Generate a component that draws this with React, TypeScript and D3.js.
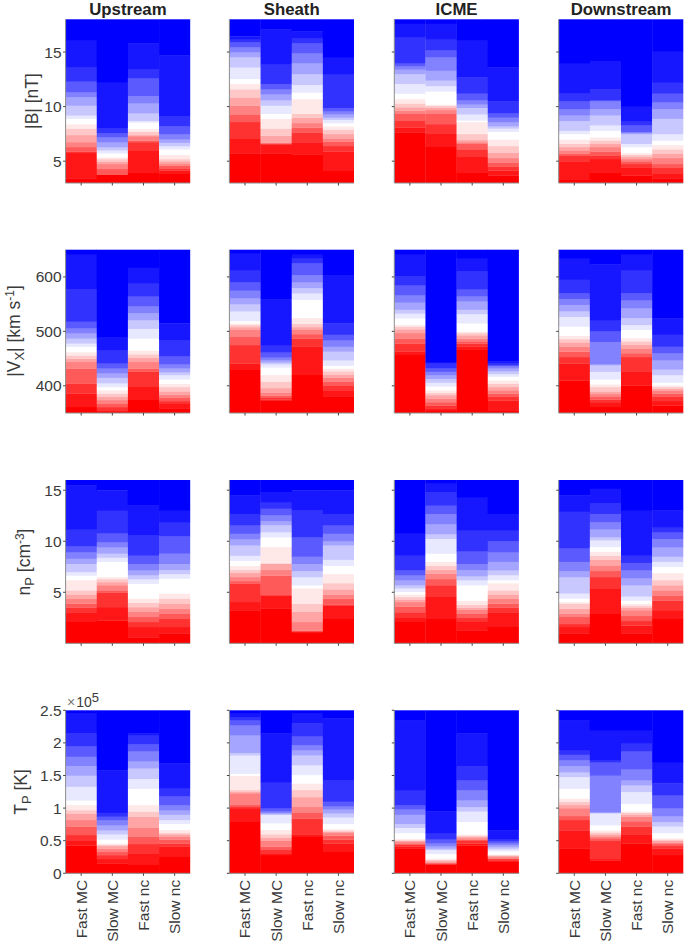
import * as React from 'react';
import * as d3 from 'd3';

const WIDTH = 685;
const HEIGHT = 944;

const regions = ['Upstream', 'Sheath', 'ICME', 'Downstream'];
const categories = ['Fast MC', 'Slow MC', 'Fast nc', 'Slow nc'];

// red -> white -> blue levels, one more than the number of edges in a column
const shadeLevels = [0, 20, 50, 90, 130, 165, 200, 232, 255, 232, 200, 165, 130, 90, 50, 20, 0];

// each column lists the upper edge of every colour band
const bUpstream = [
  [3.4, 5.75, 5.9, 6.3, 6.75, 7.4, 8.0, 8.4, 8.9, 9.2, 10.1, 10.9, 11.35, 12.3, 13.65, 16.05],
  [3.75, 3.76, 3.78, 4.3, 4.75, 4.95, 5.2, 5.37, 5.73, 6.0, 6.3, 6.75, 7.2, 7.6, 8.0, 12.2],
  [4.0, 5.95, 6.75, 6.9, 7.3, 7.4, 7.7, 7.95, 8.55, 8.7, 9.4, 10.3, 11.0, 12.6, 13.4, 15.8],
  [3.85, 4.15, 4.3, 4.6, 4.75, 5.0, 5.2, 5.6, 6.1, 6.4, 6.7, 7.0, 7.5, 8.2, 9.1, 14.7],
];
const bSheath = [
  [5.7, 7.05, 8.6, 9.3, 10.1, 10.85, 11.6, 12.1, 12.55, 13.6, 14.55, 15, 15.45, 15.9, 16.2, 16.45],
  [5.7, 6.55, 6.6, 6.65, 6.7, 7.35, 8.0, 8.9, 9.35, 10.1, 10.6, 11.15, 11.6, 12.1, 13.9, 17.1],
  [5.6, 6.7, 7.65, 8.1, 8.5, 9.0, 9.35, 10.7, 11.3, 12, 13, 14, 14.9, 15.8, 16.3, 16.9],
  [4.1, 5.9, 6.4, 6.8, 7.1, 7.5, 7.9, 8.2, 8.5, 8.8, 9.0, 9.3, 9.6, 9.9, 13, 14.55],
];
const bIcme = [
  [7.65, 8.1, 8.7, 9.35, 9.65, 9.95, 10.3, 10.7, 11.2, 12.1, 13, 13.4, 13.7, 14, 16.4, 17.6],
  [6.3, 7.5, 8.4, 9.35, 9.7, 9.9, 10.1, 10.2, 11.4, 11.9, 12.4, 13.3, 14.55, 15.2, 16.2, 17.6],
  [4, 5.4, 6.1, 6.6, 6.75, 6.95, 7.5, 8.6, 8.75, 9.3, 9.9, 10.2, 10.6, 11.2, 12.7, 16.1],
  [3.7, 4.15, 4.5, 4.9, 5.3, 5.8, 6.4, 7, 7.7, 8, 8.2, 8.6, 9, 9.4, 10.5, 13.6],
];
const bDownstream = [
  [3.3, 5.0, 5.5, 5.7, 6, 6.3, 6.6, 7, 7.5, 7.8, 8.7, 9.2, 9.8, 10.5, 11.2, 14],
  [4, 5.2, 5.5, 5.9, 6.3, 6.6, 6.9, 7.2, 7.8, 8.3, 9.2, 9.8, 10.5, 10.6, 11.6, 14.2],
  [3.7, 4.45, 4.75, 5, 5.2, 5.4, 5.6, 5.75, 6.3, 6.6, 7.5, 7.6, 7.7, 8.3, 8.7, 10],
  [3.4, 3.85, 4.4, 4.75, 5.3, 5.7, 6.1, 6.5, 6.9, 7.5, 8.9, 9.8, 10.4, 11.2, 12.2, 15.1],
];

const vUpstream = [
  [361, 386, 404, 432, 444, 450, 456, 462, 472, 478, 487, 497, 506, 518, 577, 641],
  [352, 354, 361, 367, 374, 380, 386, 392, 398, 405, 415, 423, 432, 441, 466, 490],
  [374, 398, 426, 432, 444, 452, 458, 465, 487, 505, 521, 534, 546, 565, 589, 617],
  [358, 367, 372, 378, 384, 390, 398, 404, 412, 420, 425, 432, 440, 455, 484, 515],
];
const vSheath = [
  [429, 441, 475, 490, 503, 508, 512, 515, 519, 537, 550, 561, 575, 590, 613, 644],
  [373, 375, 378, 382, 388, 396, 408, 420, 434, 440, 443, 447, 452, 462, 475, 559],
  [420, 472, 487, 495, 503, 508, 514, 525, 558, 570, 580, 590, 604, 625, 635, 641],
  [380, 392, 400, 408, 415, 421, 427, 432, 437, 447, 463, 472, 484, 494, 515, 604],
];
const vIcme = [
  [457, 463, 478, 487, 497, 504, 509, 512, 524, 533, 540, 553, 567, 585, 601, 641],
  [354, 358, 364, 370, 377, 383, 387, 392, 399, 406, 413, 420, 426, 433, 441, 444],
  [466, 472, 478, 482, 487, 493, 497, 500, 515, 532, 540, 555, 565, 577, 610, 635],
  [354, 373, 380, 386, 392, 398, 404, 410, 417, 422, 427, 432, 436, 438, 441, 445],
];
const vDownstream = [
  [410, 441, 453, 463, 472, 480, 486, 492, 509, 527, 537, 549, 560, 570, 595, 635],
  [361, 370, 375, 380, 385, 390, 398, 403, 412, 426, 438, 440, 481, 500, 521, 623],
  [401, 426, 453, 460, 469, 476, 482, 488, 503, 512, 525, 543, 557, 570, 613, 641],
  [364, 372, 380, 386, 391, 395, 398, 401, 406, 420, 430, 447, 460, 472, 494, 524],
];

const nUpstream = [
  [2.1, 3.05, 3.5, 3.9, 4.4, 4.8, 5.2, 6.2, 6.65, 7.0, 7.8, 8.3, 8.95, 9.5, 11.2, 15.5],
  [2.25, 3.55, 5, 5.2, 5.7, 6, 6.3, 6.5, 8, 8.4, 8.8, 9.4, 9.9, 10.8, 13, 15],
  [0.6, 1.6, 2.1, 2.6, 3.1, 3.55, 4, 4.4, 5.85, 6.3, 6.7, 7.15, 7.8, 8.6, 10.6, 13.5],
  [0.95, 1.6, 2.4, 2.9, 3.4, 3.9, 4.4, 4.9, 6.35, 6.8, 7.2, 7.8, 8.8, 10.5, 11.9, 13],
];
const nSheath = [
  [3.2, 4.05, 5.85, 6.1, 6.5, 6.9, 7.2, 7.6, 8.1, 8.6, 9.6, 10.2, 10.75, 11.6, 12.7, 14.5],
  [3.4, 4.7, 4.75, 6.65, 7.2, 7.8, 7.85, 9.45, 10.4, 10.9, 11.6, 12, 12.55, 13.2, 13.85, 14.85],
  [1.1, 1.15, 1.2, 1.25, 2.1, 3.1, 3.9, 5.4, 5.7, 6.5, 7.1, 7.8, 8.5, 10.4, 13.05, 15],
  [2.4, 3.7, 3.8, 4.4, 4.8, 5.3, 5.9, 6.8, 7.6, 8.2, 9.6, 10, 10.75, 11.6, 12.7, 15],
];
const nIcme = [
  [2.1, 2.5, 3.05, 3.6, 4.05, 4.3, 4.55, 4.8, 5.05, 5.4, 5.7, 6.2, 6.7, 7.15, 8.65, 10.75],
  [2.4, 4.55, 5.7, 6.3, 6.85, 7.2, 7.6, 8, 8.8, 10.25, 10.7, 11.7, 12.7, 13.5, 14.85, 15.65],
  [1.25, 2.1, 2.5, 2.9, 3.3, 3.5, 3.8, 4.2, 5.7, 6.2, 6.6, 7.2, 7.8, 9, 11.1, 14.35],
  [1.6, 3.05, 3.5, 3.9, 4.4, 4.8, 5.2, 5.9, 6.2, 6.7, 7.15, 8, 8.95, 10, 11.1, 12.7],
];
const nDownstream = [
  [0.95, 1.6, 1.9, 2.6, 2.9, 3.4, 3.9, 4.05, 4.4, 4.9, 6.5, 7.1, 8, 9.3, 12.9, 14.5],
  [2.9, 5.35, 6.5, 7.1, 7.65, 8.2, 8.6, 9, 9.45, 10.1, 10.4, 11.2, 11.9, 12.7, 13.7, 15.15],
  [0.95, 1.75, 2.2, 2.7, 3.25, 3.5, 3.7, 3.9, 4.2, 4.6, 5.7, 6.4, 7.15, 7.9, 8.65, 13],
  [2.4, 3.25, 4.2, 4.7, 5.2, 5.7, 6.2, 6.9, 7.5, 8, 8.5, 9.4, 10.25, 10.9, 11.4, 13.05],
];

const tUpstream = [
  [0.43, 0.5, 0.59, 0.72, 0.82, 0.92, 0.97, 1.05, 1.12, 1.33, 1.5, 1.65, 1.79, 1.95, 2.15, 2.45],
  [0.15, 0.22, 0.28, 0.33, 0.38, 0.42, 0.44, 0.46, 0.52, 0.6, 0.66, 0.74, 0.82, 0.87, 0.93, 1.58],
  [0.13, 0.3, 0.45, 0.56, 0.7, 0.87, 0.95, 1.05, 1.3, 1.45, 1.61, 1.72, 1.87, 1.98, 2.12, 2.15],
  [0.25, 0.41, 0.46, 0.52, 0.56, 0.6, 0.62, 0.67, 0.76, 0.82, 0.9, 0.97, 1.05, 1.18, 1.3, 1.69],
];
const tSheath = [
  [0.79, 1.0, 1.02, 1.05, 1.23, 1.25, 1.28, 1.5, 1.53, 1.81, 1.85, 2.12, 2.27, 2.35, 2.4, 2.45],
  [0.28, 0.3, 0.36, 0.41, 0.5, 0.55, 0.6, 0.67, 0.77, 0.9, 0.91, 0.93, 0.95, 1.0, 1.4, 2.15],
  [0.56, 0.6, 0.84, 0.93, 1.02, 1.17, 1.28, 1.38, 1.51, 1.66, 1.81, 1.89, 1.97, 2.1, 2.3, 2.45],
  [0.33, 0.46, 0.52, 0.58, 0.62, 0.64, 0.66, 0.68, 0.76, 0.86, 0.92, 0.98, 1.03, 1.1, 1.43, 2.38],
];
const tIcme = [
  [0.38, 0.41, 0.44, 0.46, 0.48, 0.5, 0.51, 0.53, 0.62, 0.7, 0.76, 0.9, 0.98, 1.05, 1.28, 2.35],
  [0.13, 0.14, 0.15, 0.16, 0.17, 0.19, 0.21, 0.23, 0.3, 0.36, 0.38, 0.42, 0.46, 0.52, 0.61, 0.95],
  [0.43, 0.46, 0.5, 0.52, 0.54, 0.56, 0.58, 0.6, 0.79, 0.95, 1.02, 1.12, 1.28, 1.43, 1.64, 2.15],
  [0.18, 0.2, 0.22, 0.23, 0.25, 0.27, 0.28, 0.29, 0.34, 0.37, 0.4, 0.43, 0.46, 0.49, 0.53, 0.66],
];
const tDownstream = [
  [0.38, 0.66, 0.82, 0.88, 1.0, 1.05, 1.1, 1.15, 1.3, 1.48, 1.55, 1.65, 1.74, 1.82, 1.89, 2.35],
  [0.2, 0.22, 0.5, 0.54, 0.57, 0.6, 0.63, 0.66, 0.74, 0.92, 0.93, 0.94, 1.5, 1.7, 1.74, 2.2],
  [0.46, 0.6, 0.72, 0.8, 0.87, 0.9, 0.93, 0.95, 1.07, 1.25, 1.35, 1.43, 1.6, 1.87, 2, 2.2],
  [0.28, 0.38, 0.42, 0.45, 0.47, 0.5, 0.52, 0.54, 0.62, 0.72, 0.79, 0.88, 1, 1.2, 1.38, 1.71],
];

const bTicks = [5, 10, 15];
const vTicks = [400, 500, 600];
const nTicks = [5, 10, 15];
const tTicks = [0, 0.5, 1, 1.5, 2, 2.5];

const rows = [
  { columns: [bUpstream, bSheath, bIcme, bDownstream], domain: [3, 18], ticks: bTicks, top: 19.3, bottom: 183 },
  { columns: [vUpstream, vSheath, vIcme, vDownstream], domain: [350, 650], ticks: vTicks, top: 249.7, bottom: 413 },
  { columns: [nUpstream, nSheath, nIcme, nDownstream], domain: [0, 16], ticks: nTicks, top: 480, bottom: 643.3 },
  { columns: [tUpstream, tSheath, tIcme, tDownstream], domain: [0, 2.5], ticks: tTicks, top: 710.3, bottom: 873.3 },
];

const panelLefts = [65.6, 229.4, 394.3, 558.7];
const panelWidth = 124.6;
const textColor = '#3a3a3a';
const font = '"Liberation Sans", Arial, sans-serif';

function shadeColor(level: number, index: number) {
  return index <= 8 ? d3.rgb(255, level, level).toString() : d3.rgb(level, level, 255).toString();
}

function Panel({ row, col }: { row: (typeof rows)[number]; col: number }) {
  const left = panelLefts[col];
  const x = d3.scaleBand().domain(categories).range([left, left + panelWidth]);
  const y = d3.scaleLinear().domain(row.domain).range([row.bottom, row.top]).clamp(true);
  const last = row === rows[rows.length - 1];
  const firstCol = col === 0;

  return (
    <g>
      <g filter="url(#soft)">
        {categories.map((cat, c) => {
          const edges = row.columns[col][c];
          const lows = [row.domain[0], ...edges];
          const highs = [...edges, row.domain[1]];
          return (
            <g key={cat}>
              {shadeLevels.map((level, i) => (
                <rect
                  key={i}
                  x={x(cat)}
                  width={x.bandwidth() + (c < 3 ? 0.3 : 0)}
                  y={y(highs[i])}
                  height={Math.max(0, y(lows[i]) - y(highs[i])) + (i > 0 ? 0.3 : 0)}
                  fill={shadeColor(level, i)}
                />
              ))}
            </g>
          );
        })}
      </g>
      <path
        d={`M${left},${row.top}V${row.bottom}H${left + panelWidth}`}
        fill="none"
        stroke="#8c8c8c"
        strokeWidth={1}
      />
      {row.ticks.map((t) => (
        <g key={t}>
          <line x1={left - 2.5} x2={left} y1={y(t)} y2={y(t)} stroke="#444" strokeWidth={1} />
          {firstCol && (
            <text
              x={left - 4}
              y={y(t)}
              dy="0.36em"
              textAnchor="end"
              fontSize={15.5}
              fill={textColor}
              fontFamily={font}
            >
              {t}
            </text>
          )}
        </g>
      ))}
      {categories.map((cat) => {
        const cx = x(cat)! + x.bandwidth() / 2;
        return (
          <g key={cat}>
            <line x1={cx} x2={cx} y1={row.bottom} y2={row.bottom + 2.5} stroke="#444" strokeWidth={1} />
            {last && (
              <text
                transform={`translate(${cx + 5.5},${row.bottom + 6.5}) rotate(-90)`}
                textAnchor="end"
                fontSize={15.5}
                fill={textColor}
                fontFamily={font}
              >
                {cat}
              </text>
            )}
          </g>
        );
      })}
    </g>
  );
}

function YLabel({ x, y, children }: { x: number; y: number; children: React.ReactNode }) {
  return (
    <text
      transform={`translate(${x},${y}) rotate(-90)`}
      textAnchor="middle"
      fontSize={17.5}
      fill={textColor}
      fontFamily={font}
    >
      {children}
    </text>
  );
}

export default function App() {
  return (
    <svg
      width={WIDTH}
      height={HEIGHT}
      viewBox={`0 0 ${WIDTH} ${HEIGHT}`}
      style={{ position: 'absolute', left: 0, top: 0 }}
    >
      <defs>
        <filter id="soft" x="-2%" y="-2%" width="104%" height="104%">
          <feGaussianBlur stdDeviation="0.7" />
        </filter>
      </defs>
      {regions.map((name, col) => (
        <text
          key={name}
          x={panelLefts[col] + panelWidth / 2}
          y={15.3}
          textAnchor="middle"
          fontSize={16.8}
          fontWeight="bold"
          fill="#222"
          fontFamily={font}
        >
          {name}
        </text>
      ))}
      {rows.map((row, r) => regions.map((_, col) => <Panel key={`${r}-${col}`} row={row} col={col} />))}

      <YLabel x={38} y={101}>|B| [nT]</YLabel>
      <YLabel x={20} y={331}>
        |V
        <tspan dy={4} fontSize={13}>X</tspan>
        <tspan dy={-4}>| [km s</tspan>
        <tspan dy={-6} fontSize={12}>-1</tspan>
        <tspan dy={6}>]</tspan>
      </YLabel>
      <YLabel x={30} y={562}>
        n
        <tspan dy={4} fontSize={13}>P</tspan>
        <tspan dy={-4}> [cm</tspan>
        <tspan dy={-6} fontSize={12}>-3</tspan>
        <tspan dy={6}>]</tspan>
      </YLabel>
      <YLabel x={27} y={792}>
        T
        <tspan dy={4} fontSize={13}>P</tspan>
        <tspan dy={-4}> [K]</tspan>
      </YLabel>

      <text x={67} y={707} fontSize={14} fill={textColor} fontFamily={font}>
        <tspan fill="#777">×</tspan>
        <tspan dx={1}>10</tspan>
        <tspan dy={-5} fontSize={13}>5</tspan>
      </text>
    </svg>
  );
}
